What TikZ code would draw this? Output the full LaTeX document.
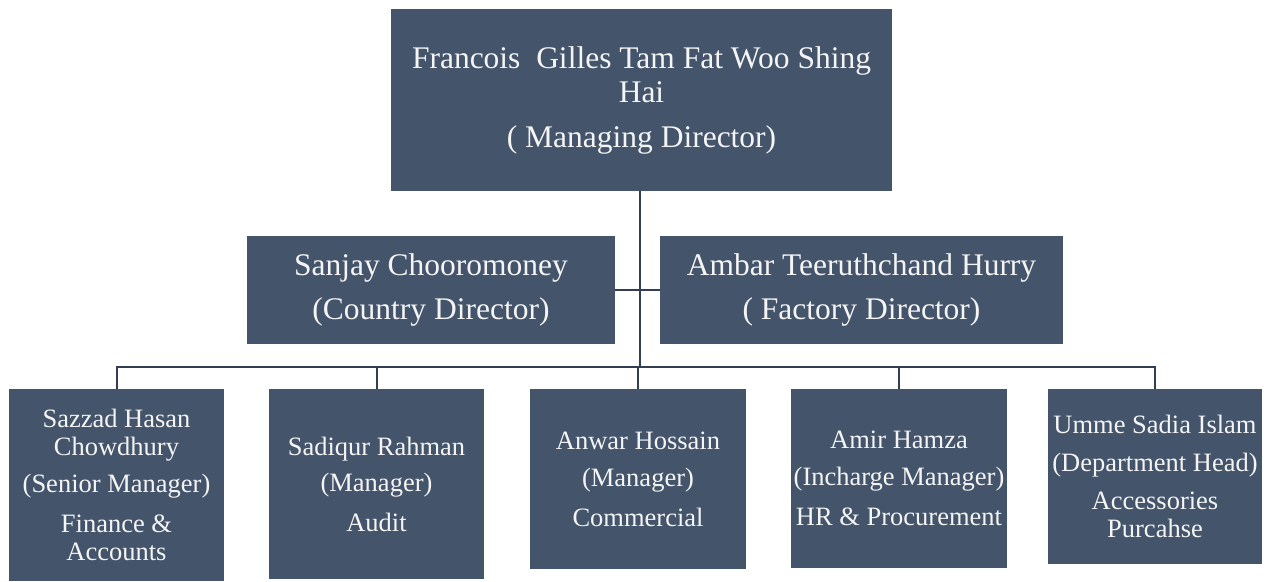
\documentclass[tikz,border=0pt]{standalone}
\usepackage{fontspec}
\setmainfont{Liberation Serif}
\definecolor{boxc}{HTML}{44546A}
\definecolor{linec}{HTML}{333F50}
\definecolor{txtc}{HTML}{F4F4F4}
\begin{document}
\begin{tikzpicture}[x=1pt,y=-1pt,
  box/.style={fill=boxc, draw=none, text=txtc, align=center, inner sep=0pt, anchor=center},
  big/.style={font=\fontsize{31.5}{34}\selectfont},
  small/.style={font=\fontsize{26.5}{28}\selectfont},
  conn/.style={draw=linec, line width=2pt}]
\useasboundingbox (0,0) rectangle (1269,581);
% top
\node[box, big, minimum width=501pt, minimum height=182pt] (md) at (641.5,100)
  {Francois~ Gilles Tam Fat Woo Shing\\ Hai\\[11pt] ( Managing Director)};
% middle
\node[box, big, minimum width=368pt, minimum height=108pt] (cd) at (431,290)
  {Sanjay Chooromoney\\[10pt] (Country Director)};
\node[box, big, minimum width=403pt, minimum height=108pt] (fd) at (861.5,290)
  {Ambar Teeruthchand Hurry\\[10pt] ( Factory Director)};
% bottom
\node[box, small, minimum width=215pt, minimum height=192pt] (b1) at (116.5,485)
  {Sazzad Hasan\\ Chowdhury\\[9pt] (Senior Manager)\\[12pt] Finance \&\\ Accounts};
\node[box, small, minimum width=215pt, minimum height=190pt] (b2) at (376.5,484)
  {Sadiqur Rahman\\[8pt] (Manager)\\[12pt] Audit};
\node[box, small, minimum width=216pt, minimum height=180pt] (b3) at (638,479)
  {Anwar Hossain\\[9pt] (Manager)\\[12pt] Commercial};
\node[box, small, minimum width=216pt, minimum height=179pt] (b4) at (899,478.5)
  {Amir Hamza\\[9pt] (Incharge Manager)\\[12pt] HR \& Procurement};
\node[box, small, minimum width=214pt, minimum height=175pt] (b5) at (1155,476.5)
  {Umme Sadia Islam\\[10pt] (Department Head)\\[10pt] Accessories\\ Purcahse};
% connectors
\coordinate (bus) at (640,367);
\draw[conn] (md.south -| bus) -- (bus);
\draw[conn] (cd.east) -- (fd.west);
\draw[conn] (b1.north) |- (b5.north |- bus) -- (b5.north);
\foreach \b in {b2,b3,b4} \draw[conn] (\b.north) -- (\b.north |- bus);
\end{tikzpicture}
\end{document}
